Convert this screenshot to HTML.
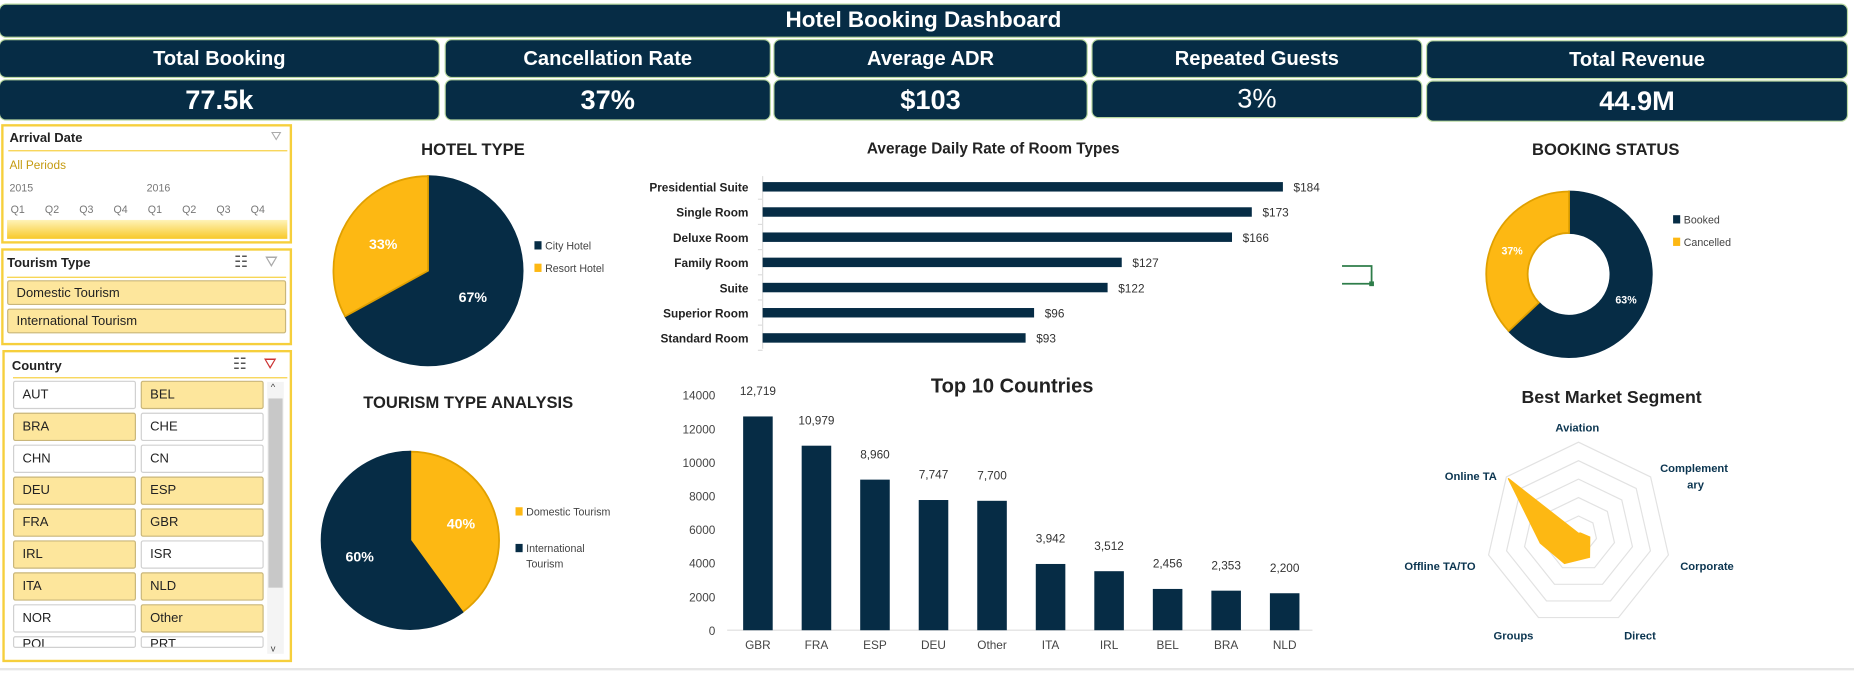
<!DOCTYPE html>
<html><head><meta charset="utf-8">
<style>
html,body{margin:0;padding:0;background:#fff;width:1854px;height:673px;overflow:hidden;font-family:"Liberation Sans",sans-serif}
#root{position:absolute;left:0;top:0;width:1568px;height:569px;transform:scale(1.18240);transform-origin:0 0}
.bar{position:absolute;background:#062c45;border-radius:5px;color:#fff;font-weight:bold;display:flex;align-items:center;justify-content:center;box-shadow:0 0 0 1px #b9d8a0}
.lab{font-size:17px}
.val{font-size:23px}
.slicer{position:absolute;border:2px solid #f6cf3c;background:#fff;box-sizing:border-box}
.sl-title{position:absolute;font-size:11px;font-weight:bold;color:#222}
.item{position:absolute;font-size:11px;box-sizing:border-box;border:1px solid #d0d0d0;border-radius:2px;padding-left:7px;display:flex;align-items:center;background:#fff;color:#222}
.item.sel{background:#fde69c;border-color:#c9b67a}
svg text{font-family:"Liberation Sans",sans-serif}
</style></head><body>
<div id="root">
<div class="bar" style="left:0;top:4px;width:1562px;height:27px;font-size:19px">Hotel Booking Dashboard</div>

<div class="bar lab" style="left:0;top:34px;width:371px;height:31px">Total Booking</div>
<div class="bar lab" style="left:377px;top:34px;width:274px;height:31px">Cancellation Rate</div>
<div class="bar lab" style="left:655px;top:34px;width:264px;height:31px">Average ADR</div>
<div class="bar lab" style="left:924px;top:34px;width:278px;height:31px">Repeated Guests</div>
<div class="bar lab" style="left:1207px;top:35px;width:355px;height:31px">Total Revenue</div>
<div class="bar val" style="left:0;top:68px;width:371px;height:33px">77.5k</div>
<div class="bar val" style="left:377px;top:68px;width:274px;height:33px">37%</div>
<div class="bar val" style="left:655px;top:68px;width:264px;height:33px">$103</div>
<div class="bar val" style="left:924px;top:68px;width:278px;height:31px;font-weight:normal">3%</div>
<div class="bar val" style="left:1207px;top:69px;width:355px;height:33px">44.9M</div>

<!-- Arrival date slicer -->
<div class="slicer" style="left:1px;top:105px;width:246px;height:101px">
 <div class="sl-title" style="left:5px;top:4px">Arrival Date</div>
 <div style="position:absolute;left:226px;top:3px;color:#aaa;font-size:11px">⛛</div>
 <div style="position:absolute;left:4px;top:20px;width:236px;height:1px;background:#f6cf3c"></div>
 <div style="position:absolute;left:5px;top:28px;font-size:10px;color:#c49a10">All Periods</div>
 <div style="position:absolute;left:5px;top:47px;font-size:9px;color:#777">2015</div>
 <div style="position:absolute;left:121px;top:47px;font-size:9px;color:#777">2016</div>
 <div id="qrow" style="position:absolute;left:6px;top:65px;font-size:9px;color:#777"></div>
 <div style="position:absolute;left:3px;top:79px;width:237px;height:16px;background:linear-gradient(#fff3b8,#f8c92a)"></div>
</div>

<!-- Tourism type slicer -->
<div class="slicer" style="left:1px;top:210px;width:246px;height:82px">
 <div class="sl-title" style="left:3px;top:5px">Tourism Type</div>
 <div style="position:absolute;left:195px;top:2px;color:#555;font-size:13px">☷</div>
 <div style="position:absolute;left:221px;top:2px;color:#aaa;font-size:13px">⛛</div>
 <div style="position:absolute;left:3px;top:22px;width:236px;height:1px;background:#f6cf3c"></div>
 <div class="item sel" style="left:3px;top:25px;width:236px;height:21px">Domestic Tourism</div>
 <div class="item sel" style="left:3px;top:49px;width:236px;height:21px">International Tourism</div>
</div>

<!-- Country slicer -->
<div class="slicer" style="left:2px;top:296px;width:245px;height:264px">
 <div class="sl-title" style="left:6px;top:6px">Country</div>
 <div style="position:absolute;left:193px;top:2px;color:#555;font-size:13px">☷</div>
 <div style="position:absolute;left:219px;top:2px;color:#c33;font-size:13px">⛛</div>
 <div style="position:absolute;left:7px;top:21px;width:232px;height:1px;background:#f6cf3c"></div>
 <div id="countries"></div>
 <div style="position:absolute;left:222px;top:25px;width:14px;height:230px;background:#f4f4f4">
  <div style="position:absolute;left:1px;top:14px;width:12px;height:160px;background:#c8c8c8"></div>
  <div style="position:absolute;left:3px;top:0;font-size:8px;color:#444">^</div>
  <div style="position:absolute;left:3px;bottom:0;font-size:8px;color:#444">v</div>
 </div>
</div>

<svg id="charts" width="1568" height="569" style="position:absolute;left:0;top:0"></svg>
</div>

<script>
// ---------- data ----------
const hotelTypes=["City Hotel","Resort Hotel"];
const hotelShares=[67,33];
const roomTypes=["Presidential Suite","Single Room","Deluxe Room","Family Room","Suite","Superior Room","Standard Room"];
const roomADR=[184,173,166,127,122,96,93];
const bookingStatus=["Booked","Cancelled"];
const bookingShares=[63,37];
const tourismTypes=["Domestic Tourism","International Tourism"];
const tourismShares=[40,60];
const countries=["GBR","FRA","ESP","DEU","Other","ITA","IRL","BEL","BRA","NLD"];
const countryBookings=[12719,10979,8960,7747,7700,3942,3512,2456,2353,2200];
const countryTicks=[0,2000,4000,6000,8000,10000,12000,14000];
const segments=["Aviation","Complementary","Corporate","Direct","Groups","Offline TA/TO","Online TA"];
const segmentValues=[0.5,1,5,11,14,17,39];
const radarRings=[8,16,24,32,40];
const sliceCountries=["AUT","BEL","BRA","CHE","CHN","CN","DEU","ESP","FRA","GBR","IRL","ISR","ITA","NLD","NOR","Other","POL","PRT"];
const sliceSelected=["BEL","BRA","DEU","ESP","FRA","GBR","IRL","ITA","NLD","Other"];
const quarters=["Q1","Q2","Q3","Q4","Q1","Q2","Q3","Q4"];

const NAVY="#062c45",GOLD="#fdb813";
const svg=document.getElementById('charts');
const NS="http://www.w3.org/2000/svg";
function mk(tag,attrs,parent){const e=document.createElementNS(NS,tag);for(const k in attrs)e.setAttribute(k,attrs[k]);(parent||svg).appendChild(e);return e;}
function txt(s,x,y,size,opts){const t=mk('text',Object.assign({x:x,y:y,'font-size':size,fill:'#222'},opts||{}));t.textContent=s;return t;}

// quarter labels
const qrow=document.getElementById('qrow');
quarters.forEach((q,i)=>{const d=document.createElement('span');d.textContent=q;d.style.cssText='position:absolute;top:0;left:'+(i*29)+'px';


qrow.appendChild(d);});

// country slicer items
const cdiv=document.getElementById('countries');
sliceCountries.forEach((c,i)=>{const d=document.createElement('div');d.className='item'+(sliceSelected.includes(c)?' sel':'');
const col=i%2,row=Math.floor(i/2);
d.style.cssText='left:'+(7+col*108)+'px;top:'+(24+row*27)+'px;width:104px;height:24px';
if(row==8){d.style.height='10px';d.style.overflow='hidden';d.style.alignItems='flex-start';}
d.textContent=c;


cdiv.appendChild(d);});

// ---------- pie helper ----------
function arc(cx,cy,r,ri,a0,a1){const p=(a,rr)=>[cx+rr*Math.sin(a),cy-rr*Math.cos(a)];const large=(a1-a0)>Math.PI?1:0;
const [x0,y0]=p(a0,r),[x1,y1]=p(a1,r);
if(!ri)return `M${cx},${cy}L${x0},${y0}A${r},${r} 0 ${large} 1 ${x1},${y1}Z`;
const [x2,y2]=p(a1,ri),[x3,y3]=p(a0,ri);
return `M${x0},${y0}A${r},${r} 0 ${large} 1 ${x1},${y1}L${x2},${y2}A${ri},${ri} 0 ${large} 0 ${x3},${y3}Z`;}
function pie(name,cx,cy,r,ri,labels,vals,colors,startCCW,labelR,fs){
 const tot=vals.reduce((a,b)=>a+b,0);let a=0;
 vals.forEach((v,i)=>{const sw=v/tot*2*Math.PI;let a0=a,a1=a+sw;
  if(startCCW){a0=-a-sw;a1=-a;} // going counterclockwise
  const p=mk('path',{d:arc(cx,cy,r,ri,a0,a1),fill:colors[i],stroke:colors[i]==GOLD?'#e0a000':NAVY,'stroke-width':1.5});
  
  
  const m=(a0+a1)/2;txt(v+'%',cx+labelR*r*Math.sin(m),cy-labelR*r*Math.cos(m)+4,fs,{fill:'#fff','font-weight':'bold','text-anchor':'middle'});
  a+=sw;});
}
function legend(name,x,y,labels,colors,gap){labels.forEach((l,i)=>{
 const g=mk('g',{});
 mk('rect',{x:x,y:y+i*gap-7,width:6,height:7,fill:colors[i]},g);
 const parts=l.split('\n');parts.forEach((p,j)=>{const t=mk('text',{x:x+9,y:y+i*gap+j*13,'font-size':9,fill:'#444'},g);t.textContent=p;});});}

// Hotel type pie
txt('HOTEL TYPE',400,131,14,{'font-weight':'bold','text-anchor':'middle'});
// City hotel clockwise from top; Resort fills the rest (left side)
pie('hotel-type',362,229,80,0,hotelTypes,hotelShares,[NAVY,GOLD],false,0.55,12);
legend('hotel-type',452,211,hotelTypes,[NAVY,GOLD],19);

// Booking status donut
txt('BOOKING STATUS',1358,131,14,{'font-weight':'bold','text-anchor':'middle'});
pie('booking-status',1327,232,70,35,bookingStatus,bookingShares,[NAVY,GOLD],false,0.75,9);
legend('booking-status',1415,189,bookingStatus,[NAVY,GOLD],19);

// Tourism type pie
txt('TOURISM TYPE ANALYSIS',396,345,14,{'font-weight':'bold','text-anchor':'middle'});
pie('tourism-type',347,457,75,0,tourismTypes,tourismShares,[GOLD,NAVY],false,0.6,12);
legend('tourism-type',436,436,["Domestic Tourism","International\nTourism"],[GOLD,NAVY],31);

// ---------- Room type bar chart ----------
txt('Average Daily Rate of Room Types',840,130,13,{'font-weight':'bold','text-anchor':'middle'});
const rx0=645,rScale=v=>rx0+v*(440/184),rY=i=>158+i*21.3;
mk('line',{x1:rx0,y1:149,x2:rx0,y2:295,stroke:'#ddd'});
roomTypes.forEach((c,i)=>{
 mk('line',{x1:rx0-4,y1:rY(i)+10.5,x2:rx0,y2:rY(i)+10.5,stroke:'#ddd'});
 const r=mk('rect',{x:rx0,y:rY(i)-4,width:rScale(roomADR[i])-rx0,height:8,fill:NAVY});
 
 
 txt(c,633,rY(i)+4,10,{'font-weight':'bold','text-anchor':'end'});
 txt('$'+roomADR[i],rScale(roomADR[i])+9,rY(i)+4,10,{fill:'#333'});
});
// small green bracket
mk('path',{d:'M1135,225H1160V240H1135',fill:'none',stroke:'#2e7d4a','stroke-width':1.5});
mk('rect',{x:1158,y:238,width:4,height:4,fill:'#2e7d4a'});

// ---------- Top 10 countries ----------
txt('Top 10 Countries',856,332,17,{'font-weight':'bold','text-anchor':'middle'});
const cy0=533,cyScale=v=>cy0-v*(199/14000),cxF=i=>641+i*49.5;
countryTicks.forEach(t=>txt(String(t),605,cyScale(t)+4,10,{'text-anchor':'end',fill:'#444'}));
mk('line',{x1:615,y1:cy0,x2:1110,y2:cy0,stroke:'#ddd'});
countries.forEach((c,i)=>{
 const r=mk('rect',{x:cxF(i)-12.5,y:cyScale(countryBookings[i]),width:25,height:cy0-cyScale(countryBookings[i]),fill:NAVY});
 
 
 txt(countryBookings[i].toLocaleString('en-US'),cxF(i),cyScale(countryBookings[i])-18,10,{'text-anchor':'middle',fill:'#333'});
 txt(c,cxF(i),549,10,{'text-anchor':'middle',fill:'#444'});
});

// ---------- Radar ----------
txt('Best Market Segment',1363,341,15,{'font-weight':'bold','text-anchor':'middle'});
const rcx=1335,rcy=452,R=78,rmax=radarRings[radarRings.length-1];
const ang=k=>-Math.PI/2+k*2*Math.PI/segments.length;
const pt=(k,v)=>[rcx+R*(v/rmax)*Math.cos(ang(k)),rcy+R*(v/rmax)*Math.sin(ang(k))];
radarRings.forEach(rv=>{mk('polygon',{points:segments.map((s,k)=>pt(k,rv).join(',')).join(' '),fill:'none',stroke:'#e2e2e2'});});
const poly=mk('polygon',{points:segments.map((s,k)=>pt(k,segmentValues[k]).join(',')).join(' '),fill:GOLD,stroke:GOLD});


const segLab=[[1334,365,'middle'],[1404,399,'start'],[1421,482,'start'],[1387,541,'middle'],[1280,541,'middle'],[1248,482,'end'],[1266,406,'end']];
segments.forEach((s,k)=>{const [x,y,a]=segLab[k];
 if(s==="Complementary"){txt('Complement',x,y,9.5,{'text-anchor':a,fill:'#0b3550','font-weight':'bold'});txt('ary',1434,y+14,9.5,{'text-anchor':'middle',fill:'#0b3550','font-weight':'bold'});}
 else txt(s,x,y,9.5,{'text-anchor':a,fill:'#0b3550','font-weight':'bold'});});

// bottom line
mk('line',{x1:0,y1:566,x2:1568,y2:566,stroke:'#e6e6e6','stroke-width':2});
</script>
</body></html>
